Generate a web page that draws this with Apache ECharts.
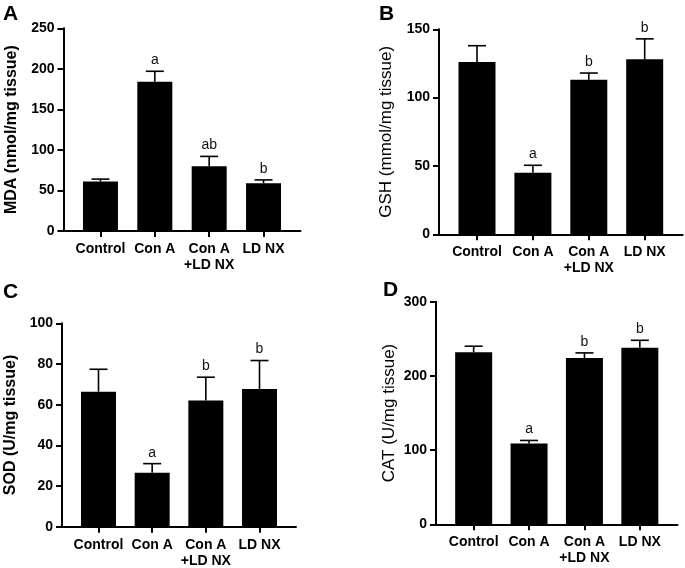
<!DOCTYPE html>
<html>
<head>
<meta charset="utf-8">
<script src="https://cdn.jsdelivr.net/npm/echarts@6/dist/echarts.min.js"></script>
<style>
  html, body { margin: 0; padding: 0; background: #fff; }
  #chart { width: 685px; height: 568px; }
</style>
</head>
<body>
<div id="chart"></div>
<script>
const categories = ["Control", "Con A", "Con A\n+LD NX", "LD NX"];
const positions = [0, 1, 2, 3];

const mdaMean = [61, 184, 80, 59];
const mdaSd = [3, 13, 12, 4];
const mdaLetters = ["", "a", "ab", "b"];

const gshMean = [126, 45, 113, 128];
const gshSd = [12, 5.5, 5, 15];
const gshLetters = ["", "a", "b", "b"];

const sodMean = [66.4, 26.5, 62, 67.7];
const sodSd = [11, 4.5, 11.5, 14];
const sodLetters = ["", "a", "b", "b"];

const catMean = [232, 109, 224, 238];
const catSd = [8, 4, 7, 10];
const catLetters = ["", "a", "b", "b"];

const FONT = "Arial, 'Liberation Sans', sans-serif";

const panels = [
  { tag: "A", tagPos: [3, 4], name: "MDA (nmol/mg tissue)", nameBold: true, nameGap: 44,
    mean: mdaMean, sd: mdaSd, letters: mdaLetters, max: 250, step: 50, barWidth: 35,
    box: { left: 63.5, top: 28.3, width: 237, height: 202.7 } },
  { tag: "B", tagPos: [379, 4], name: "GSH (mmol/mg tissue)", nameBold: false, nameGap: 44,
    mean: gshMean, sd: gshSd, letters: gshLetters, max: 150, step: 50, barWidth: 37,
    box: { left: 439, top: 29.3, width: 243.7, height: 205 } },
  { tag: "C", tagPos: [3, 282], name: "SOD (U/mg tissue)", nameBold: true, nameGap: 43,
    mean: sodMean, sd: sodSd, letters: sodLetters, max: 100, step: 20, barWidth: 35,
    box: { left: 62, top: 323.3, width: 234, height: 203.4 } },
  { tag: "D", tagPos: [383, 280], name: "CAT (U/mg tissue)", nameBold: false, nameGap: 38,
    mean: catMean, sd: catSd, letters: catLetters, max: 300, step: 100, barWidth: 37,
    box: { left: 436, top: 301.7, width: 241.5, height: 222.6 } },
];

const chart = echarts.init(document.getElementById("chart"), null, { renderer: "canvas" });

function errorBar(letters) {
  return function (params, api) {
    const x = api.value(0);
    const base = api.coord([x, api.value(1)]);
    const top = api.coord([x, api.value(1) + api.value(2)]);
    const cap = 9;
    const style = { stroke: "#000", lineWidth: 1.6 };
    return {
      type: "group",
      children: [
        { type: "line", shape: { x1: base[0], y1: base[1], x2: top[0], y2: top[1] }, style },
        { type: "line", shape: { x1: top[0] - cap, y1: top[1], x2: top[0] + cap, y2: top[1] }, style },
        {
          type: "text",
          style: {
            x: top[0], y: top[1] - 4, text: letters[params.dataIndex],
            align: "center", verticalAlign: "bottom",
            fontSize: 14, fontFamily: FONT, fill: "#111",
          },
        },
      ],
    };
  };
}

const option = {
  backgroundColor: "#fff",
  animation: false,
  title: panels.map((p) => ({
    text: p.tag, left: p.tagPos[0], top: p.tagPos[1], padding: 0,
    textStyle: { fontSize: 21, fontWeight: "bold", fontFamily: FONT, color: "#000" },
  })),
  grid: panels.map((p) => ({ ...p.box, containLabel: false, outerBoundsMode: "none" })),
  xAxis: panels.map((p, i) => ({
    type: "value", gridIndex: i, min: -0.68, max: 3.68,
    splitLine: { show: false },
    axisLine: { show: true, onZero: false, lineStyle: { color: "#000", width: 2 } },
    axisTick: { show: true, customValues: positions, length: 6, lineStyle: { color: "#000", width: 2 } },
    axisLabel: {
      customValues: positions, formatter: (v) => categories[v] ?? "",
      color: "#000", fontWeight: "bold", fontSize: 14, lineHeight: 16, fontFamily: FONT, margin: 10,
    },
  })),
  yAxis: panels.map((p, i) => ({
    type: "value", gridIndex: i, min: 0, max: p.max, interval: p.step,
    name: p.name, nameLocation: "middle", nameRotate: 90, nameGap: p.nameGap,
    nameTextStyle: { fontSize: p.nameBold ? 16 : 17, fontWeight: p.nameBold ? "bold" : "normal", fontFamily: FONT, color: "#000" },
    splitLine: { show: false },
    axisLine: { show: true, onZero: false, lineStyle: { color: "#000", width: 2 } },
    axisTick: { show: true, length: 6, lineStyle: { color: "#000", width: 2 } },
    axisLabel: { color: "#000", fontWeight: "bold", fontSize: 14, fontFamily: FONT, margin: 9 },
  })),
  series: panels.flatMap((p, i) => [
    {
      type: "bar", xAxisIndex: i, yAxisIndex: i, barWidth: p.barWidth,
      itemStyle: { color: "#000" },
      data: positions.map((x, k) => [x, p.mean[k]]),
    },
    {
      type: "custom", xAxisIndex: i, yAxisIndex: i, z: 3,
      renderItem: errorBar(p.letters),
      data: positions.map((x, k) => [x, p.mean[k], p.sd[k]]),
    },
  ]),
};

chart.setOption(option);
</script>
</body>
</html>
